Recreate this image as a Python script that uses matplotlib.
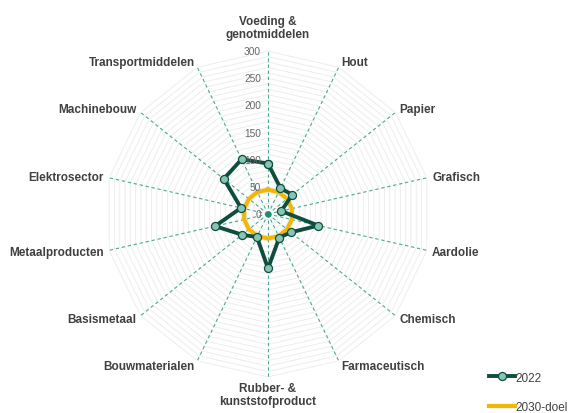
import matplotlib.pyplot as plt
import numpy as np

plt.rcParams['font.family'] = ['Liberation Sans', 'DejaVu Sans']

# data
sectoren = ['Voeding &\ngenotmiddelen', 'Hout', 'Papier', 'Grafisch', 'Aardolie',
            'Chemisch', 'Farmaceutisch', 'Rubber- &\nkunststofproduct', 'Bouwmaterialen',
            'Basismetaal', 'Metaalproducten', 'Elektrosector', 'Machinebouw',
            'Transportmiddelen']
waarden_2022 = [93, 53, 57, 25, 95, 54, 48, 100, 47, 61, 100, 51, 104, 112]
doel_2030 = [45] * 14
ticks = [0, 50, 100, 150, 200, 250, 300]
rmax = 300

donkergroen = '#0f4d3e'
lichtgroen = '#86c4b3'
geel = '#f2b705'
spaak = '#4aa892'
tekst = '#404040'

fig = plt.figure(figsize=(5.74, 4.14), dpi=100)
ax = fig.add_axes([0.1829, 0.087, 0.568, 0.787], projection='polar')
ax.set_theta_zero_location('N')
ax.set_theta_direction(-1)
ax.set_ylim(0, rmax)
ax.grid(False)
ax.spines['polar'].set_visible(False)
ax.set_xticks([])
ax.set_yticks([])

n = len(sectoren)
hoeken = np.arange(n) * 2 * np.pi / n
hoeken_d = np.append(hoeken, hoeken[0])

# polygon gridlines every 10
for r in range(10, rmax + 1, 10):
    ax.plot(hoeken_d, [r] * (n + 1), color='#ebebeb', lw=0.6, zorder=1)

# spokes
for h in hoeken:
    ax.plot([h, h], [0, rmax], color=spaak, lw=0.8, ls=(0, (3, 2.5)), zorder=2)

ax.plot([0], [0], 'o', color='#1f8a6e', ms=3.5, zorder=3)

# tick labels
for t in ticks:
    ax.annotate(str(t), xy=(0, t), xytext=(-5, 0), textcoords='offset points',
                ha='right', va='center', fontsize=7.3, color='#666666', zorder=6)

# category labels
for h, naam in zip(hoeken, sectoren):
    s, c = np.sin(h), np.cos(h)
    if s > 0.1:
        ha = 'left'
    elif s < -0.1:
        ha = 'right'
    else:
        ha = 'center'
    r = 310
    va = 'center'
    if c > 0.95:
        va = 'bottom'
        r = 320
    elif c < -0.95:
        va = 'top'
    ax.text(h, r, naam, ha=ha, va=va, fontsize=8.5, fontweight='bold',
            color=tekst, linespacing=1.1, clip_on=False)

w = np.append(waarden_2022, waarden_2022[0])
d = np.append(doel_2030, doel_2030[0])
ax.plot(hoeken_d, w, color=donkergroen, lw=2.8, marker='o', ms=5.8,
        markerfacecolor=lichtgroen, markeredgecolor=donkergroen, markeredgewidth=0.9,
        label='2022', zorder=5)
ax.plot(hoeken_d, d, color=geel, lw=3.0, label='2030-doel', zorder=4)

fig.legend(loc='lower left', bbox_to_anchor=(0.833, -0.025), frameon=False,
           fontsize=8.5, labelcolor=tekst, handlelength=2.2, handletextpad=0.1,
           labelspacing=1.45)

fig.savefig('out.png', dpi=100)
